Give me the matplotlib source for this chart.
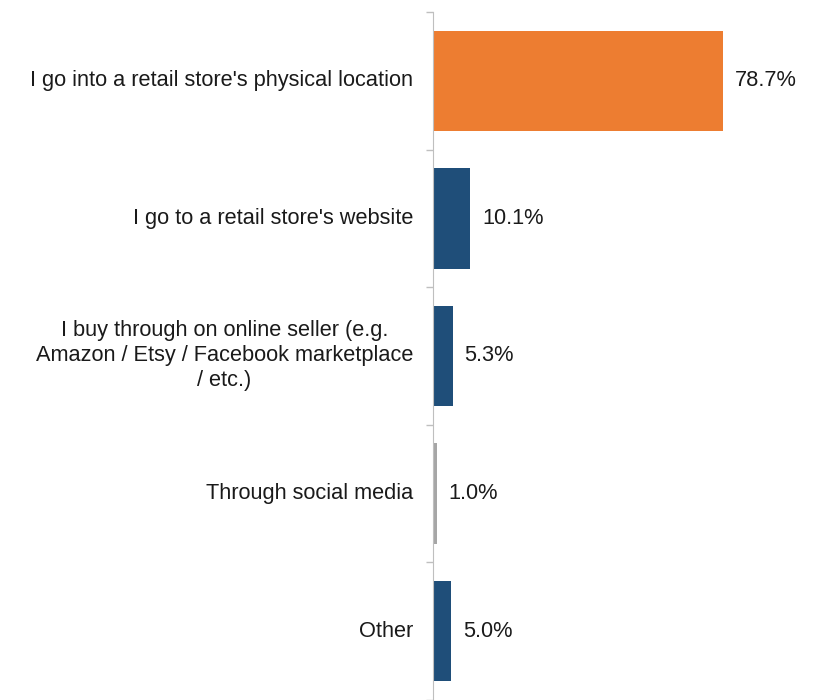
import matplotlib
matplotlib.use("Agg")
import matplotlib.pyplot as plt
import numpy as np

categories = [
    "I go into a retail store's physical location",
    "I go to a retail store's website",
    "I buy through on online seller (e.g.\nAmazon / Etsy / Facebook marketplace\n/ etc.)",
    "Through social media",
    "Other",
]
values = [78.7, 10.1, 5.3, 1.0, 5.0]
colors = ["#ED7D31", "#1F4E79", "#1F4E79", "#A6A6A6", "#1F4E79"]

plt.rcParams["font.family"] = ["Liberation Sans", "DejaVu Sans"]

fig = plt.figure(figsize=(8.13, 7.0), dpi=100)
ax = fig.add_axes([433 / 813, 0.0, (800 - 433) / 813, 1 - 12 / 700])

y = np.arange(len(categories))
ax.barh(y, values, height=0.73, color=colors, edgecolor="none")
ax.set_ylim(len(categories) - 0.5, -0.5)
ax.set_xlim(0, 99.6)

for yi, v in zip(y, values):
    ax.text(v + 3.2, yi, f"{v:.1f}%", va="center", ha="left",
            fontsize=15.7, color="#1A1A1A")

for yi, c in zip(y, categories):
    ax.text(-5.4, yi, c, va="center", ha="right", multialignment="center",
            fontsize=15.7, color="#1A1A1A", linespacing=1.25,
            clip_on=False)

ax.set_yticks(np.arange(len(categories) + 1) - 0.5)
ax.set_yticklabels([])
ax.tick_params(axis="y", length=5, color="#BFBFBF", width=1)
ax.set_xticks([])

for s in ["top", "right", "bottom"]:
    ax.spines[s].set_visible(False)
ax.spines["left"].set_color("#BFBFBF")

fig.savefig("out.png", dpi=100, facecolor="white")
